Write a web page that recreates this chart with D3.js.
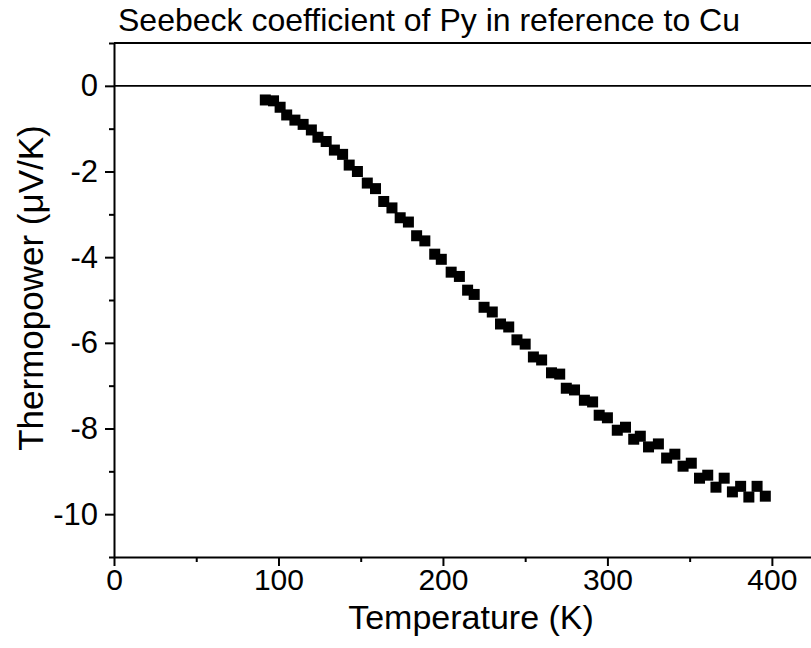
<!DOCTYPE html>
<html>
<head>
<meta charset="utf-8">
<script src="https://cdn.jsdelivr.net/npm/d3@7"></script>
<style>
  html, body { margin: 0; padding: 0; background: #fff; }
  svg { display: block; font-family: "Liberation Sans", Arial, sans-serif; }
  .axis path, .axis line { stroke: #000; stroke-width: 2; }
</style>
</head>
<body>
<svg id="chart" width="811" height="648"></svg>
<script>
// ============
// DATA
// ============

// temperature (K)
const temperature = [92, 97, 101, 105, 110, 115, 120, 124, 129, 134, 139, 143, 148, 154, 159,
  164, 169, 174, 179, 184, 189, 195, 199, 205, 210, 215, 219, 225, 230, 235, 240,
  245, 250, 255, 260, 266, 271, 275, 280, 286, 291, 295, 300, 306, 311, 316,
  320, 325, 331, 336, 341, 346, 351, 356, 361, 366, 371, 376, 381, 386, 391, 396];

// thermopower (uV/K)
const thermopower = [-0.33, -0.35, -0.5, -0.68, -0.8, -0.9, -1.03, -1.2, -1.3, -1.5, -1.6, -1.85, -2.0, -2.27, -2.4,
  -2.7, -2.85, -3.08, -3.18, -3.5, -3.62, -3.93, -4.05, -4.35, -4.45, -4.77, -4.87, -5.17, -5.28, -5.56, -5.63,
  -5.93, -6.03, -6.33, -6.4, -6.7, -6.73, -7.06, -7.1, -7.34, -7.38, -7.69, -7.75, -8.04, -7.97, -8.25,
  -8.18, -8.43, -8.36, -8.69, -8.6, -8.88, -8.81, -9.16, -9.09, -9.37, -9.16, -9.48, -9.35, -9.6, -9.35, -9.58];

const xTicks = [0, 100, 200, 300, 400];
const xMinorTicks = [50, 150, 250, 350];
const yTicks = [0, -2, -4, -6, -8, -10];
const yMinorTicks = [1, -1, -3, -5, -7, -9, -11];

const titleText = "Seebeck coefficient of Py in reference to Cu";
const xLabel = "Temperature (K)";

// ============
// SCALES
// ============

const svg = d3.select("#chart");

const x = d3.scaleLinear().domain([0, 425]).range([114, 813]);
const y = d3.scaleLinear().domain([-11, 1]).range([557, 43]);

const tickFont = 30;
const labelFont = 34;

// ============
// ZERO LINE + TOP LINE
// ============

svg.append("line")
  .attr("x1", x(0)).attr("x2", x(425))
  .attr("y1", y(0)).attr("y2", y(0))
  .attr("stroke", "#000").attr("stroke-width", 1.6);

svg.append("line")
  .attr("x1", x(0)).attr("x2", x(425))
  .attr("y1", y(1)).attr("y2", y(1))
  .attr("stroke", "#000").attr("stroke-width", 2);

// ============
// AXES
// ============

// minor ticks first
svg.append("g").attr("class", "axis")
  .attr("transform", "translate(0," + y(-11) + ")")
  .call(d3.axisBottom(x).tickValues(xMinorTicks).tickSize(5).tickFormat(""))
  .call(g => g.select(".domain").remove());

svg.append("g").attr("class", "axis")
  .attr("transform", "translate(" + x(0) + ",0)")
  .call(d3.axisLeft(y).tickValues(yMinorTicks).tickSize(5).tickFormat(""))
  .call(g => g.select(".domain").remove());

const xAxis = svg.append("g").attr("class", "axis")
  .attr("transform", "translate(0," + y(-11) + ")")
  .call(d3.axisBottom(x).tickValues(xTicks).tickSize(9).tickSizeOuter(0).tickPadding(3));
xAxis.selectAll("text").attr("font-size", tickFont).attr("fill", "#000").attr("font-family", "Liberation Sans, Arial, sans-serif");

const yAxis = svg.append("g").attr("class", "axis")
  .attr("transform", "translate(" + x(0) + ",0)")
  .call(d3.axisLeft(y).tickValues(yTicks).tickSize(9).tickSizeOuter(0).tickPadding(7)
    .tickFormat(d => d3.format("d")(d).replace("−", "-")));
yAxis.selectAll("text").attr("font-size", 31).attr("fill", "#000").attr("font-family", "Liberation Sans, Arial, sans-serif");

// ============
// DATA POINTS
// ============

const sz = 11;
svg.append("g")
  .selectAll("rect")
  .data(temperature.map((t, i) => ({ t: t, v: thermopower[i] })))
  .enter()
  .append("rect")
    .attr("x", d => x(d.t) - sz / 2)
    .attr("y", d => y(d.v) - sz / 2)
    .attr("width", sz)
    .attr("height", sz)
    .attr("fill", "#000");

// ============
// LABELS
// ============

svg.append("text")
  .attr("x", 118)
  .attr("y", 31)
  .attr("font-size", 32)
  .text(titleText);

svg.append("text")
  .attr("x", 471)
  .attr("y", 629)
  .attr("text-anchor", "middle")
  .attr("font-size", labelFont)
  .text(xLabel);

const yl = svg.append("text")
  .attr("text-anchor", "middle")
  .attr("transform", "translate(43,288)rotate(-90)")
  .attr("font-size", 35);
yl.append("tspan").text("Thermopower (");
yl.append("tspan").text("\u03bc");
yl.append("tspan").text("V/K)");
</script>
</body>
</html>
